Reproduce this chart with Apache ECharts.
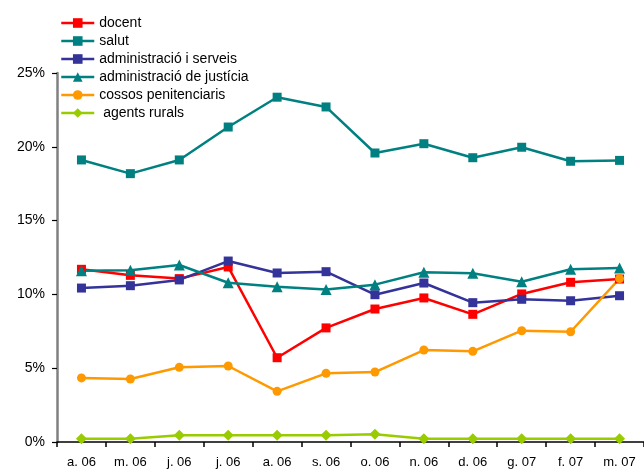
<!DOCTYPE html>
<html>
<head>
<meta charset="utf-8">
<script src="https://cdn.jsdelivr.net/npm/echarts@6/dist/echarts.min.js"></script>
<style>html,body{margin:0;padding:0;background:#fff}#c{width:644px;height:472px}</style>
</head>
<body>
<div id="c"></div>
<script>
const categories = ['a. 06','m. 06','j. 06','j. 06','a. 06','s. 06','o. 06','n. 06','d. 06','g. 07','f. 07','m. 07'];
const yTicks = [0, 5, 10, 15, 20, 25];
const docent = [11.70, 11.29, 11.07, 11.86, 5.71, 7.73, 9.01, 9.76, 8.65, 10.03, 10.82, 11.04];
const salut = [19.11, 18.18, 19.11, 21.34, 23.36, 22.70, 19.58, 20.21, 19.26, 19.97, 19.02, 19.08];
const adminServeis = [10.43, 10.59, 10.98, 12.26, 11.45, 11.54, 9.98, 10.77, 9.44, 9.67, 9.57, 9.91];
const adminJusticia = [11.61, 11.63, 11.99, 10.79, 10.52, 10.34, 10.66, 11.50, 11.43, 10.86, 11.70, 11.79];
const cossos = [4.34, 4.27, 5.06, 5.15, 3.43, 4.65, 4.74, 6.23, 6.14, 7.54, 7.47, 11.07];
const agents = [0.22, 0.22, 0.45, 0.45, 0.45, 0.45, 0.52, 0.22, 0.22, 0.22, 0.22, 0.22];
const seriesNames = ['docent','salut','administració i serveis','administració de justícia','cossos penitenciaris',' agents rurals'];

const FONT = '"Liberation Sans", Arial, sans-serif';
const chart = echarts.init(document.getElementById('c'), null, {renderer: 'canvas'});

function mk(name, data, color, symbol, size) {
  return {
    name, type: 'line', data, symbol, symbolSize: size,
    lineStyle: {color, width: 2.5},
    itemStyle: {color, borderWidth: 0},
    animation: false,
    emphasis: {disabled: true}
  };
}

chart.setOption({
  backgroundColor: '#ffffff',
  animation: false,
  grid: {left: 57, right: 0, top: 73, bottom: 30, containLabel: false},
  legend: {
    orient: 'vertical', left: 60, top: 14, padding: 0,
    itemWidth: 33, itemHeight: 12, itemGap: 0,
    lineStyle: {width: 2.5},
    textStyle: {fontFamily: FONT, fontSize: 14, color: '#000', lineHeight: 18},
    data: seriesNames
  },
  xAxis: {
    type: 'category', data: categories, boundaryGap: true,
    axisLine: {lineStyle: {color: '#000', width: 1.5}},
    axisTick: {show: true, length: 5, lineStyle: {color: '#000', width: 1.5}},
    axisLabel: {fontFamily: FONT, fontSize: 13, color: '#000', margin: 14},
    splitLine: {show: false}
  },
  yAxis: {
    type: 'value', min: yTicks[0], max: yTicks[yTicks.length-1], interval: 5,
    axisLine: {show: true, lineStyle: {color: '#808080', width: 2.5}},
    axisTick: {show: true, length: 5, lineStyle: {color: '#000', width: 1.2}},
    axisLabel: {fontFamily: FONT, fontSize: 14, color: '#000', margin: 12, formatter: '{value}%'},
    splitLine: {show: false}
  },
  series: [
    mk(seriesNames[0], docent, '#FF0000', 'rect', 9),
    mk(seriesNames[1], salut, '#008080', 'rect', 9),
    mk(seriesNames[2], adminServeis, '#333399', 'rect', 9),
    mk(seriesNames[3], adminJusticia, '#008080', 'triangle', 11),
    mk(seriesNames[4], cossos, '#FF9900', 'circle', 9),
    mk(seriesNames[5], agents, '#99CC00', 'diamond', 11)
  ]
});
</script>
</body>
</html>
